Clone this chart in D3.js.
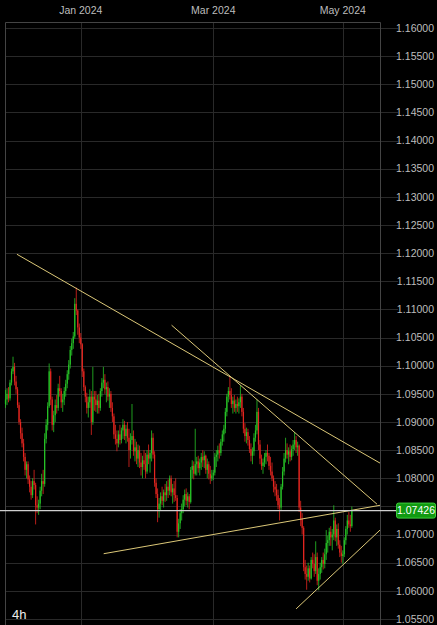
<!DOCTYPE html>
<html>
<head>
<meta charset="utf-8">
<script src="https://cdn.jsdelivr.net/npm/d3@7"></script>
<style>
  body { margin: 0; background: #000; }
  svg { display: block; }
</style>
</head>
<body>
<svg id="chart" width="437" height="625"></svg>
<script>
// EUR/USD, 12h candles on trading days from 27 Nov 2023
const startDay = '2023-11-27'
const firstOpen = 1.0932
const lastPrice = 1.07426
const timeframe = '4h'

const closes = [
  1.0940, 1.0950, 1.0942, 1.0970, 1.0990, 1.0998, 1.0972, 1.0958, 1.0930, 1.0900,
  1.0880, 1.0862, 1.0838, 1.0815, 1.0825, 1.0798, 1.0785, 1.0770, 1.0795, 1.0788,
  1.0752, 1.0748, 1.0755, 1.0778, 1.0795, 1.0790, 1.0870, 1.0895, 1.0928, 1.0990,
  1.0940, 1.0895, 1.0912, 1.0930, 1.0925, 1.0960, 1.0955, 1.0935, 1.0940, 1.0955,
  1.0968, 1.0985, 1.1002, 1.1028, 1.1040, 1.1052, 1.1110, 1.1098, 1.1068, 1.1050,
  1.1038, 1.0990, 1.0962, 1.0945, 1.0925, 1.0935, 1.0945, 1.0900, 1.0945, 1.0940,
  1.0930, 1.0938, 1.0925, 1.0955, 1.0970, 1.0975, 1.0958, 1.0962, 1.0945, 1.0950,
  1.0925, 1.0910, 1.0878, 1.0870, 1.0862, 1.0878, 1.0868, 1.0885, 1.0895, 1.0875,
  1.0888, 1.0872, 1.0850, 1.0868, 1.0875, 1.0848, 1.0855, 1.0835, 1.0850, 1.0828,
  1.0820, 1.0832, 1.0825, 1.0812, 1.0842, 1.0835, 1.0845, 1.0872, 1.0842, 1.0792,
  1.0772, 1.0745, 1.0755, 1.0768, 1.0760, 1.0775, 1.0770, 1.0785, 1.0778, 1.0800,
  1.0775, 1.0782, 1.0770, 1.0765, 1.0705, 1.0720, 1.0738, 1.0745, 1.0762, 1.0772,
  1.0760, 1.0768, 1.0758, 1.0815, 1.0822, 1.0808, 1.0825, 1.0830, 1.0818, 1.0828,
  1.0838, 1.0832, 1.0840, 1.0815, 1.0825, 1.0808, 1.0800, 1.0805, 1.0810, 1.0838,
  1.0842, 1.0850, 1.0845, 1.0865, 1.0878, 1.0888, 1.0918, 1.0945, 1.0955, 1.0948,
  1.0932, 1.0938, 1.0925, 1.0932, 1.0928, 1.0935, 1.0945, 1.0918, 1.0888, 1.0875,
  1.0882, 1.0868, 1.0852, 1.0840, 1.0848, 1.0872, 1.0885, 1.0918, 1.0860, 1.0835,
  1.0822, 1.0828, 1.0838, 1.0845, 1.0840, 1.0822, 1.0812, 1.0800, 1.0785, 1.0780,
  1.0770, 1.0752, 1.0748, 1.0785, 1.0812, 1.0835, 1.0850, 1.0842, 1.0848, 1.0838,
  1.0852, 1.0860, 1.0868, 1.0855, 1.0858, 1.0748, 1.0728, 1.0712, 1.0642, 1.0630,
  1.0625, 1.0640, 1.0622, 1.0655, 1.0648, 1.0635, 1.0660, 1.0618, 1.0630, 1.0642,
  1.0655, 1.0648, 1.0665, 1.0685, 1.0690, 1.0705, 1.0695, 1.0700, 1.0725, 1.0695,
  1.0710, 1.0682, 1.0668, 1.0662, 1.0665, 1.0690, 1.0710, 1.0725, 1.0718, 1.0715,
  1.07426
]

const highs = [
  1.0957, 1.0960, 1.0962, 1.0975, 1.0995, 1.1016, 1.1005, 1.0982, 1.0962, 1.0935,
  1.0905, 1.0890, 1.0870, 1.0845, 1.0830, 1.0830, 1.0805, 1.0795, 1.0800, 1.0815,
  1.0792, 1.0768, 1.0762, 1.0785, 1.0808, 1.0815, 1.0880, 1.0905, 1.0935, 1.1004,
  1.0995, 1.0945, 1.0920, 1.0940, 1.0948, 1.0968, 1.0982, 1.0960, 1.0950, 1.0962,
  1.0975, 1.0992, 1.1010, 1.1035, 1.1048, 1.1060, 1.1120, 1.1139, 1.1100, 1.1075,
  1.1058, 1.1040, 1.0995, 1.0965, 1.0952, 1.0945, 1.0958, 1.0955, 1.0998, 1.0955,
  1.0955, 1.0948, 1.0950, 1.0960, 1.0978, 1.0998, 1.0985, 1.0970, 1.0972, 1.0960,
  1.0955, 1.0935, 1.0915, 1.0895, 1.0885, 1.0885, 1.0895, 1.0890, 1.0905, 1.0902,
  1.0895, 1.0900, 1.0888, 1.0880, 1.0932, 1.0885, 1.0870, 1.0865, 1.0860, 1.0858,
  1.0845, 1.0840, 1.0850, 1.0845, 1.0850, 1.0860, 1.0850, 1.0885, 1.0880, 1.0848,
  1.0800, 1.0782, 1.0765, 1.0775, 1.0785, 1.0780, 1.0790, 1.0795, 1.0798, 1.0805,
  1.0805, 1.0790, 1.0795, 1.0800, 1.0770, 1.0728, 1.0745, 1.0755, 1.0770, 1.0780,
  1.0782, 1.0775, 1.0772, 1.0820, 1.0832, 1.0830, 1.0888, 1.0838, 1.0840, 1.0835,
  1.0845, 1.0850, 1.0848, 1.0842, 1.0835, 1.0830, 1.0822, 1.0815, 1.0815, 1.0845,
  1.0850, 1.0858, 1.0862, 1.0870, 1.0885, 1.0895, 1.0925, 1.0950, 1.0962, 1.0981,
  1.0960, 1.0945, 1.0948, 1.0940, 1.0945, 1.0942, 1.0965, 1.0950, 1.0925, 1.0898,
  1.0890, 1.0888, 1.0875, 1.0862, 1.0855, 1.0880, 1.0895, 1.0940, 1.0925, 1.0868,
  1.0842, 1.0835, 1.0845, 1.0850, 1.0860, 1.0845, 1.0838, 1.0828, 1.0805, 1.0795,
  1.0790, 1.0780, 1.0765, 1.0790, 1.0820, 1.0845, 1.0872, 1.0862, 1.0855, 1.0860,
  1.0858, 1.0868, 1.0882, 1.0875, 1.0865, 1.0860, 1.0760, 1.0738, 1.0715, 1.0655,
  1.0645, 1.0650, 1.0645, 1.0660, 1.0668, 1.0665, 1.0688, 1.0668, 1.0640, 1.0650,
  1.0660, 1.0668, 1.0675, 1.0708, 1.0698, 1.0712, 1.0715, 1.0710, 1.0752, 1.0730,
  1.0718, 1.0720, 1.0690, 1.0680, 1.0672, 1.0695, 1.0715, 1.0735, 1.0740, 1.0735,
  1.0750
]

const lows = [
  1.0925, 1.0930, 1.0935, 1.0938, 1.0965, 1.0985, 1.0965, 1.0950, 1.0925, 1.0895,
  1.0870, 1.0855, 1.0830, 1.0805, 1.0800, 1.0790, 1.0775, 1.0762, 1.0765, 1.0780,
  1.0718, 1.0738, 1.0735, 1.0745, 1.0768, 1.0772, 1.0785, 1.0862, 1.0885, 1.0925,
  1.0930, 1.0885, 1.0882, 1.0900, 1.0915, 1.0920, 1.0945, 1.0925, 1.0918, 1.0930,
  1.0945, 1.0960, 1.0975, 1.0995, 1.1018, 1.1030, 1.1048, 1.1090, 1.1055, 1.1040,
  1.1030, 1.0980, 1.0955, 1.0935, 1.0915, 1.0908, 1.0925, 1.0877, 1.0895, 1.0920,
  1.0918, 1.0915, 1.0915, 1.0920, 1.0945, 1.0960, 1.0950, 1.0935, 1.0938, 1.0925,
  1.0918, 1.0900, 1.0870, 1.0860, 1.0848, 1.0855, 1.0860, 1.0862, 1.0870, 1.0868,
  1.0862, 1.0865, 1.0820, 1.0835, 1.0860, 1.0840, 1.0830, 1.0825, 1.0820, 1.0818,
  1.0805, 1.0800, 1.0815, 1.0800, 1.0808, 1.0825, 1.0810, 1.0830, 1.0835, 1.0785,
  1.0765, 1.0722, 1.0730, 1.0742, 1.0752, 1.0748, 1.0758, 1.0760, 1.0765, 1.0770,
  1.0768, 1.0755, 1.0758, 1.0760, 1.0695, 1.0695, 1.0710, 1.0725, 1.0738, 1.0750,
  1.0752, 1.0748, 1.0745, 1.0755, 1.0800, 1.0798, 1.0805, 1.0805, 1.0810, 1.0805,
  1.0815, 1.0820, 1.0818, 1.0808, 1.0800, 1.0798, 1.0790, 1.0795, 1.0797, 1.0805,
  1.0820, 1.0830, 1.0835, 1.0840, 1.0858, 1.0865, 1.0880, 1.0910, 1.0935, 1.0940,
  1.0925, 1.0915, 1.0918, 1.0915, 1.0918, 1.0915, 1.0925, 1.0910, 1.0880, 1.0865,
  1.0862, 1.0858, 1.0845, 1.0830, 1.0825, 1.0840, 1.0865, 1.0878, 1.0850, 1.0825,
  1.0815, 1.0808, 1.0820, 1.0825, 1.0830, 1.0815, 1.0805, 1.0795, 1.0775, 1.0768,
  1.0760, 1.0745, 1.0725, 1.0742, 1.0780, 1.0805, 1.0828, 1.0835, 1.0825, 1.0830,
  1.0832, 1.0840, 1.0850, 1.0845, 1.0840, 1.0740, 1.0715, 1.0700, 1.0635, 1.0620,
  1.0602, 1.0618, 1.0615, 1.0620, 1.0640, 1.0625, 1.0630, 1.0610, 1.0601, 1.0620,
  1.0632, 1.0638, 1.0640, 1.0655, 1.0668, 1.0680, 1.0680, 1.0672, 1.0690, 1.0688,
  1.0680, 1.0675, 1.0660, 1.0650, 1.0648, 1.0660, 1.0682, 1.0700, 1.0712, 1.0705,
  1.0712
]

const monthTicks = ['2024-01-01', '2024-03-01', '2024-05-01']
const monthLabels = ['Jan 2024', 'Mar 2024', 'May 2024']

// drawn lines: [candle index, price] -> [candle index, price]
const trendLines = [
  [[7.6, 1.1198], [248.7, 1.0827]],
  [[110.3, 1.1072], [246.7, 1.0754]],
  [[65.2, 1.0666], [248.7, 1.0752]],
  [[193.0, 1.0568], [248.7, 1.0708]]
]

const width = 437
const height = 625
const plotLeft = 5
const plotRight = 380
const plotTop = 22

// trading-day timestamps, two candles per day
const dates = []
let day = new Date(startDay + 'T00:00:00Z')
while (dates.length < closes.length) {
  const wd = day.getUTCDay()
  if (wd !== 0 && wd !== 6) {
    dates.push(new Date(day))
    dates.push(new Date(day.getTime() + 12 * 3600e3))
  }
  day = new Date(day.getTime() + 864e5)
}
dates.length = closes.length

const candles = closes.map((c, i) => {
  const o = i === 0 ? firstOpen : closes[i - 1]
  return {
    i: i,
    date: dates[i],
    open: o,
    close: c,
    high: Math.max(highs[i], o, c),
    low: Math.min(lows[i], o, c)
  }
})

const xScale = d3.scaleLinear().domain([-0.33, 248.7]).range([plotLeft, plotRight])
const yScale = d3.scaleLinear().domain([1.055, 1.16]).range([619, 28])
const py = yScale(lastPrice)

const svg = d3.select('#chart')
svg.append('rect').attr('width', width).attr('height', height).attr('fill', '#000')

// horizontal grid + price labels
const yTicks = yScale.ticks(21)
svg.append('g')
  .selectAll('line')
  .data(yTicks)
  .enter()
  .append('line')
  .attr('x1', plotLeft)
  .attr('x2', 398)
  .attr('y1', d => Math.round(yScale(d)) + 0.5)
  .attr('y2', d => Math.round(yScale(d)) + 0.5)
  .attr('stroke', '#292929')
  .attr('stroke-width', 1)

// the last-price tag hides the label it sits on
svg.append('g')
  .selectAll('text')
  .data(yTicks.filter(d => Math.abs(yScale(d) - py) > 11))
  .enter()
  .append('text')
  .attr('x', 434)
  .attr('y', d => yScale(d))
  .attr('dy', '0.35em')
  .attr('text-anchor', 'end')
  .attr('fill', '#bdbdbd')
  .attr('font-family', '"Liberation Sans", Arial, sans-serif')
  .attr('font-size', 10.5)
  .text(d => d3.format('.5f')(d))

// month grid + labels
const tickIdx = monthTicks.map(t => dates.findIndex(d => d >= new Date(t + 'T00:00:00Z')))
svg.append('g')
  .selectAll('line')
  .data(tickIdx)
  .enter()
  .append('line')
  .attr('x1', d => Math.round(xScale(d)) + 0.5)
  .attr('x2', d => Math.round(xScale(d)) + 0.5)
  .attr('y1', plotTop)
  .attr('y2', height)
  .attr('stroke', '#292929')

svg.append('g')
  .selectAll('text')
  .data(tickIdx)
  .enter()
  .append('text')
  .attr('x', d => xScale(d))
  .attr('y', 14)
  .attr('text-anchor', 'middle')
  .attr('fill', '#bdbdbd')
  .attr('font-family', '"Liberation Sans", Arial, sans-serif')
  .attr('font-size', 10.5)
  .text((d, i) => monthLabels[i])

// frame
svg.append('path')
  .attr('d', `M${plotLeft + 0.5},${height}V${plotTop + 0.5}H${plotRight + 0.5}V${height}`)
  .attr('fill', 'none')
  .attr('stroke', '#444')

// candles
const up = '#27c427'
const down = '#e52620'
const g = svg.append('g')
g.selectAll('line')
  .data(candles)
  .enter()
  .append('line')
  .attr('x1', d => xScale(d.i))
  .attr('x2', d => xScale(d.i))
  .attr('y1', d => yScale(d.high))
  .attr('y2', d => yScale(d.low))
  .attr('stroke', d => d.close >= d.open ? up : down)
  .attr('stroke-width', 0.8)

g.selectAll('rect')
  .data(candles)
  .enter()
  .append('rect')
  .attr('x', d => xScale(d.i) - 0.6)
  .attr('width', 1.2)
  .attr('y', d => yScale(Math.max(d.open, d.close)))
  .attr('height', d => Math.max(0.8, Math.abs(yScale(d.open) - yScale(d.close))))
  .attr('fill', d => d.close >= d.open ? up : down)

// trend lines
svg.append('g')
  .selectAll('line')
  .data(trendLines)
  .enter()
  .append('line')
  .attr('x1', d => xScale(d[0][0]))
  .attr('y1', d => yScale(d[0][1]))
  .attr('x2', d => xScale(d[1][0]))
  .attr('y2', d => yScale(d[1][1]))
  .attr('stroke', '#dcc878')
  .attr('stroke-width', 1)

// last price line + tag
svg.append('line')
  .attr('x1', 0)
  .attr('x2', 396)
  .attr('y1', py)
  .attr('y2', py)
  .attr('stroke', '#d0d0d0')
  .attr('stroke-width', 1.3)

svg.append('rect')
  .attr('x', 396.5)
  .attr('y', py - 7.5)
  .attr('width', 39)
  .attr('height', 15)
  .attr('rx', 2)
  .attr('fill', '#119a11')
  .attr('stroke', '#3ccf3c')

svg.append('text')
  .attr('x', 416)
  .attr('y', py)
  .attr('dy', '0.36em')
  .attr('text-anchor', 'middle')
  .attr('fill', '#fff')
  .attr('font-family', '"Liberation Sans", Arial, sans-serif')
  .attr('font-size', 10.5)
  .text(d3.format('.5f')(lastPrice))

svg.append('text')
  .attr('x', 12)
  .attr('y', 619)
  .attr('fill', '#eee')
  .attr('font-family', '"Liberation Sans", Arial, sans-serif')
  .attr('font-size', 13)
  .text(timeframe)
</script>
</body>
</html>
